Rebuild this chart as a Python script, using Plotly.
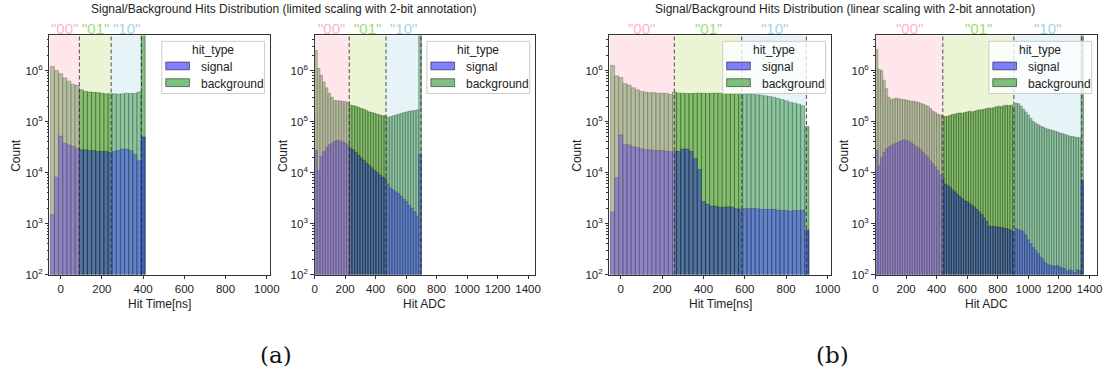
import plotly.graph_objects as go

# ---------------- data ----------------
region_labels = ['"00"', '"01"', '"10"']

# (a) left: Hit Time, limited scaling (bins of 20 ns from -50)
tl_start, tl_width = -50, 20
tl_background = [1.2e6, 1.0e6, 8.7e5, 7.2e5, 6.2e5, 5.4e5, 5.1e5,
                 4.2e5, 3.9e5, 3.8e5, 3.75e5, 3.7e5, 3.6e5, 3.5e5, 3.5e5,
                 3.5e5, 3.45e5, 3.5e5, 3.6e5, 3.55e5, 3.6e5, 3.8e5,
                 1e7]
tl_signal = [1.5e3, 8.2e3, 5.2e4, 3.8e4, 3.5e4, 3.3e4, 3.0e4,
             2.8e4, 2.8e4, 2.7e4, 2.7e4, 2.6e4, 2.6e4, 2.6e4, 2.5e4,
             2.6e4, 2.7e4, 2.9e4, 2.9e4, 2.7e4, 2.3e4, 1.7e4,
             5e4]
tl_bounds = [91, 245, 392]

# (a) right: Hit ADC, limited scaling (bins of 17.5 from 0)
al_start, al_width = 0, 17.5
al_background = [2.5e6, 1.1e6, 8.1e5, 6.0e5, 4.6e5, 3.6e5, 3.0e5, 2.6e5, 2.55e5, 2.55e5, 2.5e5, 2.45e5, 2.4e5,
                 2.1e5, 2.05e5, 2.0e5, 1.9e5, 1.8e5, 1.75e5, 1.65e5, 1.55e5, 1.5e5, 1.45e5, 1.4e5, 1.35e5, 1.3e5, 1.3e5,
                 1.2e5, 1.25e5, 1.3e5, 1.35e5, 1.4e5, 1.45e5, 1.5e5, 1.55e5, 1.6e5, 1.62e5, 1.65e5, 1.7e5,
                 1e7]
al_signal = [2.7e4, 1.1e4, 2.1e4, 2.6e4, 3.1e4, 3.5e4, 3.8e4, 4.1e4, 4.3e4, 4.2e4, 4.0e4, 3.8e4, 3.5e4,
             3.0e4, 2.8e4, 2.5e4, 2.2e4, 1.95e4, 1.75e4, 1.55e4, 1.4e4, 1.25e4, 1.1e4, 1.0e4, 9e3, 8.2e3, 7.8e3,
             6.0e3, 5.0e3, 4.6e3, 4.2e3, 3.9e3, 3.4e3, 3.0e3, 2.7e3, 2.3e3, 2.0e3, 1.7e3, 1.4e3,
             2.3e4]
al_bounds = [227, 468, 697]

# (b) left: Hit Time, linear scaling (bins of 20 ns from -50)
tn_start, tn_width = -50, 20
tn_background = [1.27e6, 7.9e5, 7.3e5, 5.6e5, 5.2e5, 4.6e5, 4.2e5, 3.9e5, 3.8e5, 3.7e5, 3.7e5, 3.6e5, 3.6e5, 3.6e5, 3.4e5,
                 3.8e5, 3.6e5, 3.6e5, 3.55e5, 3.55e5, 3.6e5, 3.6e5, 3.6e5, 3.55e5, 3.6e5, 3.6e5, 3.6e5, 3.55e5, 3.5e5,
                 3.5e5, 3.55e5, 3.5e5,
                 3.5e5, 3.45e5, 3.4e5, 3.35e5, 3.3e5, 3.2e5, 3.1e5, 3.0e5, 2.85e5, 2.7e5, 2.55e5, 2.4e5, 2.3e5, 2.2e5,
                 2.05e5,
                 8e4]
tn_signal = [1.7e3, 8e3, 5.5e4, 3.6e4, 3.5e4, 3.2e4, 3.1e4, 2.95e4, 2.85e4, 2.8e4, 2.75e4, 2.7e4, 2.7e4, 2.65e4, 2.6e4,
             2.6e4, 2.6e4, 2.9e4, 2.9e4, 2.6e4, 1.9e4, 1.15e4, 2.7e3, 2.4e3, 2.2e3, 2.2e3, 2.1e3, 2.1e3, 2.15e3,
             2.1e3, 1.95e3, 1.9e3,
             2.0e3, 1.95e3, 2.0e3, 1.95e3, 1.9e3, 1.9e3, 1.9e3, 1.9e3, 1.85e3, 1.8e3, 1.8e3, 1.75e3, 1.8e3, 1.8e3,
             1.85e3,
             750]
tn_bounds = [259, 585, 898]

# (b) right: Hit ADC, linear scaling (bins of 16 from 0)
an_start, an_width = 0, 16
an_background = [2.6e6, 1.06e6, 1.0e6, 6.5e5, 4.4e5, 3.0e5, 2.7e5, 2.8e5, 2.9e5, 2.8e5, 2.75e5, 2.7e5, 2.65e5,
                 2.6e5, 2.5e5, 2.5e5, 2.45e5, 2.4e5, 2.3e5, 2.2e5, 2.1e5, 2.0e5, 1.8e5, 1.6e5, 1.5e5, 1.4e5, 1.35e5,
                 1.3e5, 1.25e5, 1.28e5, 1.32e5, 1.38e5, 1.4e5, 1.45e5, 1.48e5, 1.45e5, 1.5e5, 1.55e5, 1.6e5, 1.55e5,
                 1.6e5, 1.65e5, 1.7e5, 1.7e5, 1.75e5, 1.8e5, 1.85e5, 1.8e5, 1.9e5, 1.95e5, 2.0e5, 1.95e5, 2.05e5,
                 2.1e5, 2.05e5, 2.1e5, 2.0e5,
                 2.3e5, 2.25e5, 2.0e5, 1.75e5, 1.55e5, 1.35e5, 1.15e5, 1.0e5, 9.3e4, 8.7e4, 8.2e4, 7.8e4, 7.4e4,
                 7.1e4, 6.9e4, 6.7e4, 6.5e4, 6.2e4, 6.0e4, 5.8e4, 5.6e4, 5.4e4, 5.2e4, 5.1e4, 5.0e4, 4.9e4, 4.8e4,
                 1e7]
an_signal = [2.7e4, 1.4e4, 2.0e4, 2.5e4, 2.9e4, 3.2e4, 3.4e4, 3.6e4, 3.8e4, 4.0e4, 4.2e4, 4.4e4, 4.3e4,
             4.1e4, 3.9e4, 3.6e4, 3.3e4, 3.1e4, 2.8e4, 2.5e4, 2.2e4, 2.0e4, 1.7e4, 1.5e4, 1.3e4, 1.1e4, 9e3,
             8e3, 6e3, 5.6e3, 5.2e3, 4.6e3, 4.2e3, 3.8e3, 3.4e3, 3.1e3, 2.8e3, 2.7e3, 2.5e3, 2.3e3,
             2.1e3, 1.9e3, 1.7e3, 1.5e3, 1.3e3, 1.1e3, 900, 880, 880, 870, 860, 840, 820,
             800, 770, 740, 700,
             800, 760, 740, 700, 600, 480, 400, 340, 300, 260, 220, 200, 170,
             160, 150, 150, 145, 150, 140, 135, 130, 115, 125, 120, 110, 125, 120,
             7e3]
an_bounds = [440, 905, 1349]

# ---------------- layout helpers ----------------
W, H = 1119, 378
def PX(x): return x / W
def PY(y): return 1 - y / H

TOP, BOT = 36, 279
panels = [
    dict(start=tl_start, width=tl_width, bg=tl_background, sig=tl_signal, bounds=tl_bounds,
         dom=(47, 270), xr=[-54, 1016], ticks=list(range(0, 1001, 200)), xlabel="Hit Time[ns]", count_x=13),
    dict(start=al_start, width=al_width, bg=al_background, sig=al_signal, bounds=al_bounds,
         dom=(315, 538), xr=[0, 1447], ticks=list(range(0, 1401, 200)), xlabel="Hit ADC", count_x=283),
    dict(start=tn_start, width=tn_width, bg=tn_background, sig=tn_signal, bounds=tn_bounds,
         dom=(613, 837), xr=[-55, 1017], ticks=list(range(0, 1001, 200)), xlabel="Hit Time[ns]", count_x=580),
    dict(start=an_start, width=an_width, bg=an_background, sig=an_signal, bounds=an_bounds,
         dom=(882, 1106), xr=[0, 1450], ticks=list(range(0, 1401, 200)), xlabel="Hit ADC", count_x=850),
]

FONT = "Liberation Sans, Arial, sans-serif"
TXT = "#222222"
SHADE = ["rgba(255,192,203,0.4)", "rgba(154,205,50,0.2)", "rgba(173,216,230,0.3)"]
LABEL_COL = ["#ffb3c1", "#9ade74", "#a4d4e6"]
BG_FILL = "rgba(0,128,0,0.5)"
SIG_FILL = "rgba(0,0,255,0.5)"
EDGE = "rgba(0,0,0,0.5)"

fig = go.Figure()
shapes, annotations = [], []


def note(x, y, text, size=12, color=TXT, family=FONT, xref="paper", xanchor="center", **kw):
    annotations.append(dict(x=x, y=y, xref=xref, yref="paper", text=text, showarrow=False,
                            xanchor=xanchor, yanchor="middle",
                            font=dict(family=family, size=size, color=color), **kw))


minor_vals = [m * 10 ** e for e in range(2, 7) for m in range(2, 10) if m * 10 ** e < 5e6]

for i, p in enumerate(panels):
    n = i + 1
    xa = "x" if n == 1 else f"x{n}"
    ya = "y" if n == 1 else f"y{n}"
    centers = [p["start"] + p["width"] * (k + 0.5) for k in range(len(p["bg"]))]
    for vals, fill in ((p["bg"], BG_FILL), (p["sig"], SIG_FILL)):
        fig.add_trace(go.Bar(x=centers, y=vals, width=p["width"], xaxis=xa, yaxis=ya,
                             marker=dict(color=fill, line=dict(color=EDGE, width=0.7)),
                             showlegend=False, hoverinfo="skip"))

    axkw = dict(showline=True, mirror=True, linecolor="#333", linewidth=0.9, showgrid=False,
                zeroline=False, ticks="outside", ticklen=3.5, tickwidth=0.8, tickcolor="#333",
                tickfont=dict(family=FONT, size=11.5, color=TXT))
    fig.update_layout(**{
        ("xaxis" if n == 1 else f"xaxis{n}"): dict(
            domain=[PX(p["dom"][0]), PX(p["dom"][1])], range=p["xr"], anchor=ya,
            tickmode="array", tickvals=p["ticks"], ticktext=[str(t) for t in p["ticks"]], **axkw),
        ("yaxis" if n == 1 else f"yaxis{n}"): dict(
            domain=[PY(BOT), PY(TOP)], type="log", range=[2, 6.69], anchor=xa,
            tickmode="array", tickvals=[1e2, 1e3, 1e4, 1e5, 1e6],
            ticktext=["10<sup>2</sup>", "10<sup>3</sup>", "10<sup>4</sup>", "10<sup>5</sup>", "10<sup>6</sup>"],
            minor=dict(tickmode="array", tickvals=minor_vals, ticks="outside", ticklen=2,
                       tickwidth=0.6, tickcolor="#333", showgrid=False),
            **axkw),
    })

    # region shading (drawn over bars like the original) and dashed boundaries
    edges = [p["xr"][0]] + p["bounds"]
    for r in range(3):
        shapes.append(dict(type="rect", xref=xa, yref=f"{ya} domain", x0=edges[r], x1=edges[r + 1],
                           y0=0, y1=1, fillcolor=SHADE[r], line=dict(width=0), layer="above"))
        note((edges[r] + edges[r + 1]) / 2, PY(28.5), region_labels[r], size=15, color=LABEL_COL[r], xref=xa)
    for b in p["bounds"]:
        shapes.append(dict(type="line", xref=xa, yref=f"{ya} domain", x0=b, x1=b, y0=0, y1=1,
                           line=dict(color="rgba(40,40,40,0.75)", width=1.1, dash="4px,2.5px"), layer="above"))

    # axis titles
    cx = (p["dom"][0] + p["dom"][1]) / 2
    note(PX(cx), PY(309), p["xlabel"])
    note(PX(p["count_x"]), PY((TOP + BOT) / 2), "Count", textangle=-90)

    # legend (matplotlib style)
    lx1 = p["dom"][1] - 5.5
    lx0 = lx1 - 104
    shapes.append(dict(type="rect", xref="paper", yref="paper", x0=PX(lx0), x1=PX(lx1), y0=PY(95), y1=PY(42),
                       fillcolor="rgba(255,255,255,0.8)", line=dict(color="#cccccc", width=1), layer="above"))
    note(PX((lx0 + lx1) / 2), PY(51), "hit_type")
    for j, (name, fill) in enumerate((("signal", SIG_FILL), ("background", BG_FILL))):
        yc = 67 + 17 * j
        shapes.append(dict(type="rect", xref="paper", yref="paper", x0=PX(lx0 + 4), x1=PX(lx0 + 28),
                           y0=PY(yc + 4), y1=PY(yc - 4), fillcolor=fill,
                           line=dict(color="rgba(0,0,0,0.55)", width=0.9), layer="above"))
        note(PX(lx0 + 37.5), PY(yc + 1), name, xanchor="left")

# figure titles and captions
note(PX(284.5), PY(9), "Signal/Background Hits Distribution (limited scaling with 2-bit annotation)")
note(PX(851.5), PY(9), "Signal/Background Hits Distribution (linear scaling with 2-bit annotation)")
note(PX(276), PY(361), "(a)", size=23, color="#111", family="DejaVu Serif, serif")
note(PX(838), PY(361), "(b)", size=23, color="#111", family="DejaVu Serif, serif")

fig.update_layout(width=W, height=H, margin=dict(l=0, r=0, t=0, b=0), barmode="overlay",
                  plot_bgcolor="white", paper_bgcolor="white", shapes=shapes, annotations=annotations,
                  showlegend=False)

fig.write_html("out.html", config={"displayModeBar": False})
